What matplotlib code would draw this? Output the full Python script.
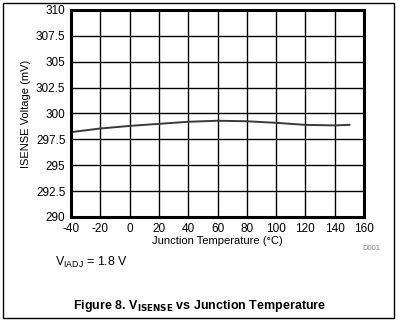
import numpy as np
import matplotlib.pyplot as plt
from matplotlib.patches import Rectangle

plt.rcParams['font.family'] = ['Liberation Sans', 'DejaVu Sans']
plt.rcParams['axes.unicode_minus'] = False

temp_c = [-40, -20, 0, 20, 40, 60, 80, 100, 120, 140, 150]
isense_mv = [298.2, 298.55, 298.8, 299.0, 299.2, 299.3, 299.25, 299.1, 298.9, 298.85, 298.9]
x_ticks = list(range(-40, 161, 20))
y_ticks = [290, 292.5, 295, 297.5, 300, 302.5, 305, 307.5, 310]
y_tick_labels = ['290', '292.5', '295', '297.5', '300', '302.5', '305', '307.5', '310']

W, H = 401, 323
fig = plt.figure(figsize=(W / 100, H / 100), dpi=100)
ax = fig.add_axes([71 / W, 1 - 217 / H, (364 - 71) / W, (217 - 10) / H])

ax.plot(temp_c, isense_mv, color='#3a3a3a', lw=1.4)

ax.set_xlim(-40, 160)
ax.set_ylim(290, 310)
ax.set_xticks(x_ticks)
ax.set_yticks(y_ticks)
ax.set_yticklabels(y_tick_labels)
ax.grid(True, color='black', lw=1)
ax.set_axisbelow(True)
ax.tick_params(length=0, labelsize=8.5, pad=4)
for s in ax.spines.values():
    s.set_linewidth(2.2)

ax.set_ylabel('ISENSE Voltage (mV)', fontsize=8)
ax.yaxis.set_label_coords((31 - 71) / (364 - 71), 0.5)
ax.set_xlabel('Junction Temperature (\u00b0C)', fontsize=8, labelpad=1)

fig.text(371 / W, 1 - 248 / H, 'D001', fontsize=5.5, color='#808080', ha='center', va='center')
fig.text(55 / W, 1 - 262 / H, r'V$_{\mathregular{IADJ}}$ = 1.8 V', fontsize=9, ha='left', va='center')
fig.text(200 / W, 1 - 306 / H, r'Figure 8. V$_{\mathbf{ISENSE}}$ vs Junction Temperature',
         fontsize=9, fontweight='bold', ha='center', va='center')

fig.patches.append(Rectangle((2.5 / W, 1 - 318 / H), 391 / W, 315.5 / H, transform=fig.transFigure,
                             fill=False, edgecolor='black', lw=1))

fig.savefig('out.png', dpi=100)
